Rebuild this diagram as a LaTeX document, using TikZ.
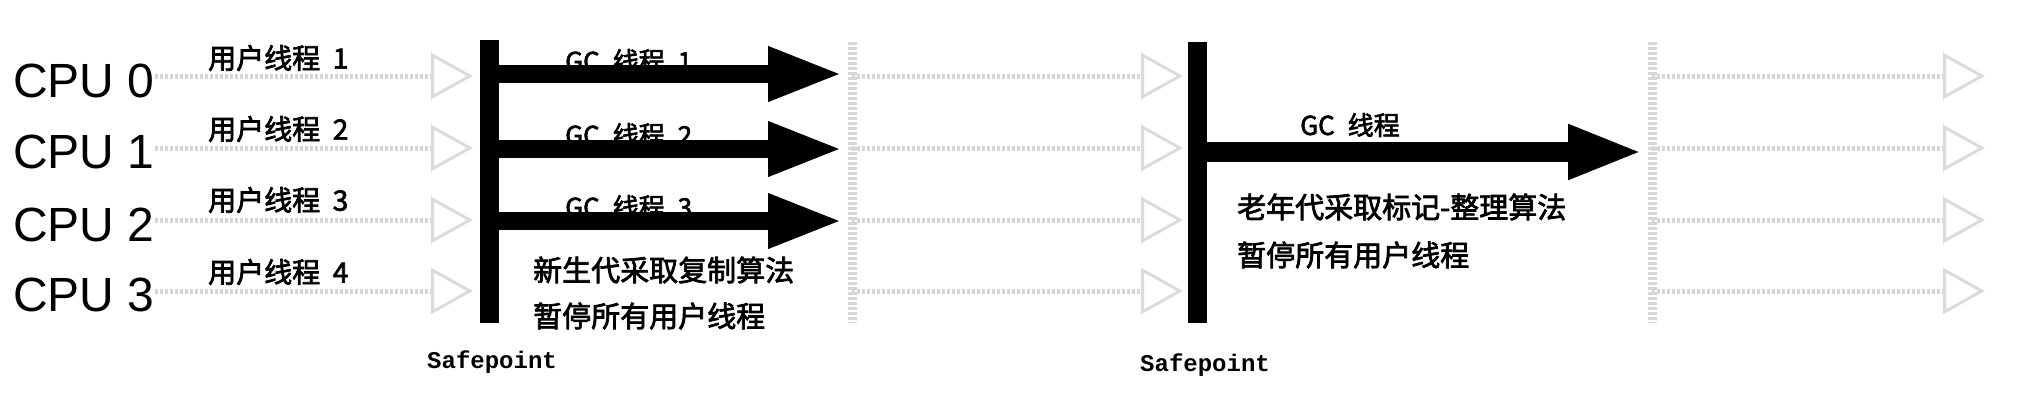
\documentclass[tikz,border=0pt]{standalone}
\usepackage{fontspec}
\setmainfont{Liberation Sans}
\setmonofont{Liberation Mono}
\newfontfamily\cjk{Noto Sans CJK SC}[FakeBold=2.5]
\usetikzlibrary{arrows.meta}
\begin{document}
\begin{tikzpicture}[x=1pt,y=-1pt,
  cpu/.style={anchor=base west, inner sep=0pt, font=\fontsize{48}{48}\selectfont},
  ulab/.style={anchor=west, inner sep=0pt, font=\cjk\fontsize{28}{28}\selectfont},
  gclab/.style={anchor=west, inner sep=0pt, font=\cjk\fontsize{26}{26}\selectfont},
  note/.style={anchor=west, inner sep=0pt, font=\cjk\fontsize{29}{29}\selectfont},
  sp/.style={anchor=base west, inner sep=0pt, font=\ttfamily\bfseries\fontsize{24}{24}\selectfont},
  bar/.style={draw=black, line width=19pt},
  gcarrow/.style={draw=black, line width=18pt, -{Triangle[length=75pt,width=50pt]}},
  ghost/.style={draw=black!16, line width=5pt, dash pattern=on 3pt off 2pt,
    -{Triangle[open,length=42pt,width=46pt,color=black!14,line width=3pt]}},
  ghostbar/.style={draw=black!16, line width=9pt, dash pattern=on 3pt off 2pt}
]
\useasboundingbox (0,0) rectangle (2028,402);

% CPU labels
\node[cpu] (cpu0) at (13,97) {CPU 0};
\node[cpu] (cpu1) at (13,168) {CPU 1};
\node[cpu] (cpu2) at (13,241) {CPU 2};
\node[cpu] (cpu3) at (13,311) {CPU 3};

% user thread labels
\node[ulab] (u1) at (208,58) {用户线程\hspace{0.45em}1};
\node[ulab] (u2) at (208,129) {用户线程\hspace{0.45em}2};
\node[ulab] (u3) at (208,200) {用户线程\hspace{0.45em}3};
\node[ulab] (u4) at (208,272) {用户线程\hspace{0.45em}4};

% ghost (faded) user thread arrows, left
\coordinate (la0) at (155,76);  \coordinate (lb0) at (473,76);
\coordinate (la1) at (155,148); \coordinate (lb1) at (473,148);
\coordinate (la2) at (155,220); \coordinate (lb2) at (473,220);
\coordinate (la3) at (155,291); \coordinate (lb3) at (473,291);
\foreach \i in {0,1,2,3} {\draw[ghost] (la\i) -- (lb\i);}

% ghost middle set
\coordinate (mbt) at (852,42); \coordinate (mbb) at (852,323);
\draw[ghostbar] (mbt) -- (mbb);
\coordinate (ma0) at (852,76);  \coordinate (mb0) at (1183,76);
\coordinate (ma1) at (852,148); \coordinate (mb1) at (1183,148);
\coordinate (ma2) at (852,220); \coordinate (mb2) at (1183,220);
\coordinate (ma3) at (852,291); \coordinate (mb3) at (1183,291);
\foreach \i in {0,1,2,3} {\draw[ghost] (ma\i) -- (mb\i);}

% ghost right set
\coordinate (rbt) at (1652,42); \coordinate (rbb) at (1652,323);
\draw[ghostbar] (rbt) -- (rbb);
\coordinate (ra0) at (1652,76);  \coordinate (rb0) at (1985,76);
\coordinate (ra1) at (1652,148); \coordinate (rb1) at (1985,148);
\coordinate (ra2) at (1652,220); \coordinate (rb2) at (1985,220);
\coordinate (ra3) at (1652,291); \coordinate (rb3) at (1985,291);
\foreach \i in {0,1,2,3} {\draw[ghost] (ra\i) -- (rb\i);}

% Safepoint 1
\coordinate (s1t) at (489,40); \coordinate (s1b) at (489,323);
\node[gclab] (gc1) at (565,61) {GC\hspace{0.5em}线程\hspace{0.5em}1};
\node[gclab] (gc2) at (565,135) {GC\hspace{0.5em}线程\hspace{0.5em}2};
\node[gclab] (gc3) at (565,207) {GC\hspace{0.5em}线程\hspace{0.5em}3};
\draw[bar] (s1t) -- (s1b);
\coordinate (g1s) at (489,74);  \coordinate (g1e) at (843,74);
\coordinate (g2s) at (489,149); \coordinate (g2e) at (843,149);
\coordinate (g3s) at (489,221); \coordinate (g3e) at (843,221);
\draw[gcarrow] (g1s) -- (g1e);
\draw[gcarrow] (g2s) -- (g2e);
\draw[gcarrow] (g3s) -- (g3e);
\node[note] (n1) at (533,270) {新生代采取复制算法};
\node[note] (n2) at (533,316) {暂停所有用户线程};
\node[sp] (sp1) at (427,368) {Safepoint};

% Safepoint 2
\coordinate (s2t) at (1197,42); \coordinate (s2b) at (1197,323);
\draw[bar] (s2t) -- (s2b);
\node[gclab] (gc) at (1300,125) {GC\hspace{0.5em}线程};
\coordinate (g4s) at (1197,152); \coordinate (g4e) at (1643,152);
\draw[gcarrow, line width=20pt] (g4s) -- (g4e);
\node[note] (n3) at (1237,207) {老年代采取标记-整理算法};
\node[note] (n4) at (1237,255) {暂停所有用户线程};
\node[sp] (sp2) at (1140,371) {Safepoint};
\end{tikzpicture}
\end{document}
